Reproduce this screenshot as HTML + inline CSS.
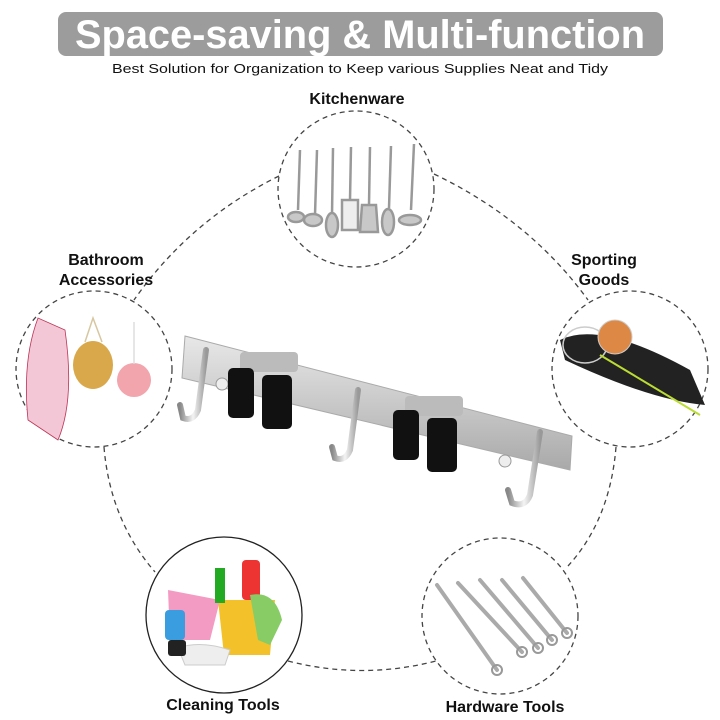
<!DOCTYPE html>
<html><head><meta charset="utf-8"><style>html,body{margin:0;padding:0;background:#fff}svg{display:block}</style></head><body>
<svg width="720" height="720" viewBox="0 0 720 720" xmlns="http://www.w3.org/2000/svg" font-family="Liberation Sans, Arial, sans-serif">
<defs>
<linearGradient id="steel" x1="0" y1="0" x2="0" y2="1"><stop offset="0" stop-color="#e8e8e8"/><stop offset="0.5" stop-color="#c9c9c9"/><stop offset="1" stop-color="#a9a9a9"/></linearGradient>
<linearGradient id="hk" x1="0" y1="0" x2="1" y2="0"><stop offset="0" stop-color="#888"/><stop offset="0.5" stop-color="#f4f4f4"/><stop offset="1" stop-color="#999"/></linearGradient>
</defs>
<rect x="58" y="12" width="605" height="44" rx="8" fill="#9c9c9c"/>
<text x="360" y="48" text-anchor="middle" font-size="40" font-weight="bold" fill="#fff" textLength="570" lengthAdjust="spacingAndGlyphs">Space-saving &amp; Multi-function</text>
<text x="360" y="73" text-anchor="middle" font-size="13" fill="#111" textLength="496" lengthAdjust="spacingAndGlyphs">Best Solution for Organization to Keep various Supplies Neat and Tidy</text>

<g fill="none" stroke="#444" stroke-width="1.3" stroke-dasharray="5,4">
<path d="M279,176 Q190,220 134,300"/>
<path d="M434,174 Q530,220 588,300"/>
<path d="M104,447 Q110,520 155,572"/>
<path d="M616,447 Q610,520 568,566"/>
<path d="M288,661 Q362,680 436,661"/>
<circle cx="356" cy="189" r="78"/>
<circle cx="94" cy="369" r="78"/>
<circle cx="630" cy="369" r="78"/>
<circle cx="500" cy="616" r="78"/>
</g>
<circle cx="224" cy="615" r="78" fill="none" stroke="#222" stroke-width="1.3"/>

<g font-weight="bold" font-size="16" fill="#111" text-anchor="middle">
<text x="357" y="104">Kitchenware</text>
<text x="106" y="265">Bathroom</text>
<text x="106" y="285">Accessories</text>
<text x="604" y="265">Sporting</text>
<text x="604" y="285">Goods</text>
<text x="223" y="710">Cleaning Tools</text>
<text x="505" y="712">Hardware Tools</text>
</g>

<g stroke="#999" stroke-width="2.5" fill="#c8c8c8">
<line x1="300" y1="150" x2="298" y2="210"/><line x1="317" y1="150" x2="315" y2="215"/><line x1="333" y1="148" x2="332" y2="215"/>
<line x1="351" y1="147" x2="350" y2="200"/><line x1="370" y1="147" x2="369" y2="205"/><line x1="391" y1="146" x2="389" y2="208"/><line x1="414" y1="144" x2="411" y2="210"/>
<ellipse cx="296" cy="217" rx="8" ry="5"/><ellipse cx="313" cy="220" rx="9" ry="6"/><ellipse cx="332" cy="225" rx="6" ry="12"/>
<rect x="342" y="200" width="16" height="30" fill="#eee"/><path d="M362,205 L376,205 L378,232 L360,232Z"/><ellipse cx="388" cy="222" rx="6" ry="13"/><ellipse cx="410" cy="220" rx="11" ry="5"/>
</g>

<path d="M38,318 Q22,360 28,420 L58,440 Q75,400 65,330 Z" fill="#f3c7d6" stroke="#b35" stroke-width="0.8"/>
<ellipse cx="93" cy="365" rx="20" ry="24" fill="#d9a84a"/>
<path d="M85,342 L93,318 L102,342" stroke="#d8c6a0" fill="none" stroke-width="1.5"/>
<circle cx="134" cy="380" r="17" fill="#f2a5ad"/>
<line x1="134" y1="322" x2="134" y2="364" stroke="#ddd" stroke-width="1.5"/>

<path d="M560,340 Q600,320 690,370 L705,405 Q650,400 565,360 Z" fill="#222"/>
<ellipse cx="585" cy="345" rx="22" ry="18" fill="none" stroke="#ccc" stroke-width="1.5"/>
<circle cx="615" cy="337" r="17" fill="#d84" stroke="#ccc"/>
<line x1="600" y1="355" x2="700" y2="415" stroke="#bd3" stroke-width="2"/>

<path d="M218,600 L275,600 L270,655 L224,655 Z" fill="#f3c22a"/>
<path d="M168,590 L220,600 L210,640 L170,640 Z" fill="#f49bc3"/>
<rect x="165" y="610" width="20" height="30" rx="4" fill="#3a9de0"/>
<rect x="242" y="560" width="18" height="40" rx="4" fill="#e33"/>
<rect x="215" y="568" width="10" height="35" fill="#2a2"/>
<path d="M250,595 Q275,590 282,620 L270,645 L258,640 Z" fill="#8c6"/>
<path d="M178,648 Q200,640 230,650 L225,665 L185,665 Z" fill="#eee" stroke="#ccc"/>
<rect x="168" y="640" width="18" height="16" rx="3" fill="#222"/>

<g stroke="#aaa" stroke-width="4" stroke-linecap="round">
<line x1="437" y1="585" x2="497" y2="670"/><line x1="458" y1="583" x2="522" y2="652"/><line x1="480" y1="580" x2="538" y2="648"/><line x1="502" y1="580" x2="552" y2="640"/><line x1="523" y1="578" x2="567" y2="633"/>
</g>
<g fill="none" stroke="#999" stroke-width="2">
<circle cx="497" cy="670" r="5"/><circle cx="522" cy="652" r="5"/><circle cx="538" cy="648" r="5"/><circle cx="552" cy="640" r="5"/><circle cx="567" cy="633" r="5"/>
</g>

<polygon points="185,336 572,436 570,470 182,378" fill="url(#steel)" stroke="#aaa"/>
<circle cx="222" cy="384" r="6" fill="#eee" stroke="#999"/>
<circle cx="505" cy="461" r="6" fill="#eee" stroke="#999"/>
<g fill="none" stroke="url(#hk)" stroke-width="6" stroke-linecap="round">
<path d="M206,350 L198,410 Q193,422 183,418 L180,405"/>
<path d="M358,390 L350,450 Q345,462 335,458 L332,447"/>
<path d="M540,432 L530,495 Q525,508 512,503 L508,490"/>
</g>
<g fill="#bbb"><rect x="240" y="352" width="58" height="20" rx="4"/><rect x="405" y="396" width="58" height="20" rx="4"/></g>
<g fill="#111">
<rect x="228" y="368" width="26" height="50" rx="5"/><rect x="262" y="375" width="30" height="54" rx="5"/>
<rect x="393" y="410" width="26" height="50" rx="5"/><rect x="427" y="418" width="30" height="54" rx="5"/>
</g>
</svg>
</body></html>
